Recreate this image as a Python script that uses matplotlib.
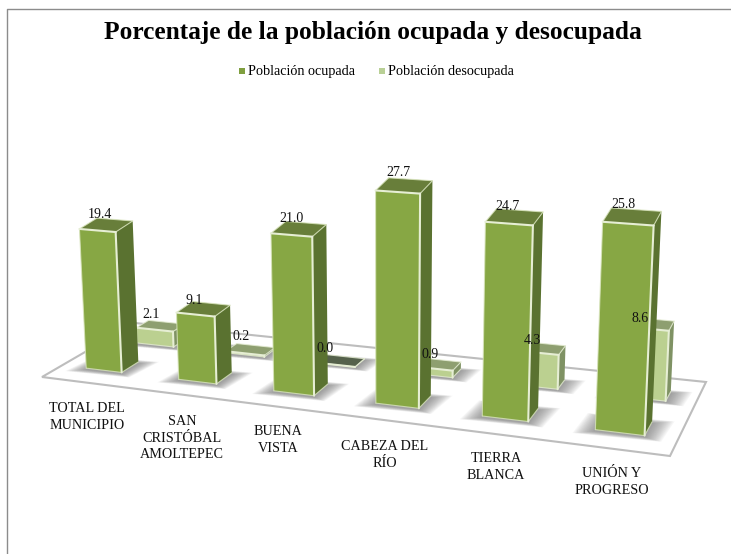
import numpy as np
import matplotlib
matplotlib.use('Agg')
import matplotlib.pyplot as plt
from matplotlib.patches import Polygon, Rectangle

plt.rcParams['font.family'] = ['Liberation Serif', 'DejaVu Serif']

TITLE = 'Porcentaje de la población ocupada y desocupada'
series_names = ['Población ocupada', 'Población desocupada']
categories = ['TOTAL DEL\nMUNICIPIO', 'SAN\nCRISTÓBAL\nAMOLTEPEC', 'BUENA\nVISTA',
              'CABEZA DEL\nRÍO', 'TIERRA\nBLANCA', 'UNIÓN Y\nPROGRESO']
ocupada = [19.4, 9.1, 21.0, 27.7, 24.7, 25.8]
desocupada = [2.1, 0.2, 0.0, 0.9, 4.3, 8.6]

# where things sit on the page, in pixels
category_xy = [(87, 417), (182, 438), (278, 440), (385, 455), (496, 467), (612, 482)]
ocupada_label_xy = [(100, 215), (194, 301), (292, 219), (398, 173), (507, 206), (623, 205)]
desocupada_label_xy = [(151, 314), (241, 337), (325, 349), (430, 354), (532, 340), (640, 318)]
floor_corners = [(42, 377), (670, 456), (706, 382), (135, 323)]
vanish = np.array([384.0, 6500.0])

# bar positions along the floor (0..1)
front_u = [0.081, 0.255, 0.423, 0.592, 0.757, 0.921]
back_u = [0.098, 0.270, 0.432, 0.596, 0.762, 0.922]


def floor_matrix(corners):
    src = [(0, 0), (1, 0), (1, 1), (0, 1)]
    rows, rhs = [], []
    for (u, v), (x, y) in zip(src, corners):
        rows.append([u, v, 1, 0, 0, 0, -u * x, -v * x])
        rows.append([0, 0, 0, u, v, 1, -u * y, -v * y])
        rhs += [x, y]
    h = np.linalg.solve(np.array(rows, float), np.array(rhs, float))
    return np.append(h, 1).reshape(3, 3)


H = floor_matrix(floor_corners)


def project(u, v, z=0.0):
    p = H @ np.array([u, v, 1.0])
    base = p[:2] / p[2]
    # bars get taller towards the right of the picture and lean away from the vanishing point
    px_per_unit = 7.2 + 0.9 * (base[0] - 100) / 520
    h = z * px_per_unit
    direction = base - vanish
    return base + direction / abs(direction[1]) * h


def shade(ax, pts, color, z=3):
    ax.add_patch(Polygon(pts, closed=True, fc=color, ec='none', zorder=z))


def draw_bar(ax, u, v, du, dv, value, colors, edge, order):
    front, side, top = colors
    a, b = u - du / 2, u + du / 2
    c, d = v, v + dv
    base = [project(a, c), project(b, c), project(b, d), project(a, d)]
    centre = np.mean(base, axis=0)
    # soft shadow on the floor: stacked transparent copies of the footprint
    for grow in np.linspace(1.05, 1.8, 16):
        pts = [centre + (p - centre) * np.array([grow, 1 + (grow - 1) * 0.6]) + np.array([0, 1.5]) for p in base]
        ax.add_patch(Polygon(pts, closed=True, fc='#6A6A6A', ec='none', alpha=0.055, zorder=order))
    tops = [project(a, c, value), project(b, c, value), project(b, d, value), project(a, d, value)]
    shade(ax, [base[1], base[2], tops[2], tops[1]], side, order + 0.1)
    shade(ax, [base[0], base[1], tops[1], tops[0]], front, order + 0.1)
    shade(ax, tops, top, order + 0.2)
    # pale bevel lines
    for seg in ([base[0], tops[0]], [base[0], base[1]], [base[1], base[2]],
                [tops[1], tops[2]], [tops[2], tops[3]], [tops[3], tops[0]]):
        xs, ys = zip(*seg)
        ax.plot(xs, ys, color=edge, lw=0.8, alpha=0.8, zorder=order + 0.3, solid_capstyle='round')
    for seg in ([base[1], tops[1]], [tops[0], tops[1]]):
        xs, ys = zip(*seg)
        ax.plot(xs, ys, color='#E6EED4', lw=1.5, zorder=order + 0.35, solid_capstyle='round')


fig = plt.figure(figsize=(7.31, 5.54), dpi=100)
ax = fig.add_axes([0, 0, 1, 1])
ax.set_xlim(0, 731)
ax.set_ylim(554, 0)
ax.axis('off')

# outer frame: only the top and left sides show
ax.plot([6.5, 6.5, 731], [554, 8.5, 8.5], color='#8C8C8C', lw=1.0, zorder=1)

# floor
ax.add_patch(Polygon(floor_corners, closed=True, fc='white', ec='#BDBDBD', lw=1.5, zorder=1.5))

for i in range(len(categories)):
    # back row first so the front bars overlap it
    top_back = '#55614B' if desocupada[i] == 0 else '#8E9F70'
    draw_bar(ax, back_u[i], 0.67, 0.072, 0.14, desocupada[i], ('#BBD090', '#7F9264', top_back), '#E4ECD2', 2 + i)
for i in range(len(categories)):
    draw_bar(ax, front_u[i], 0.20, 0.068, 0.18, ocupada[i], ('#87A744', '#5A7230', '#687E3A'), '#D8E4BC', 10 + i)

# texts
ax.text(373, 33, TITLE, ha='center', va='center', fontsize=18.3, fontweight='bold', color='black', zorder=30)
ax.add_patch(Rectangle((239, 68), 6, 6, fc='#7F9F3F', ec='none', zorder=30))
ax.text(248, 71, series_names[0], ha='left', va='center', fontsize=10.2, zorder=30)
ax.add_patch(Rectangle((379, 68), 6, 6, fc='#B9D096', ec='none', zorder=30))
ax.text(388, 71, series_names[1], ha='left', va='center', fontsize=10.2, zorder=30)

for name, (x, y) in zip(categories, category_xy):
    ax.text(x, y, name, ha='center', va='center', fontsize=10.2, linespacing=1.32, color='#111111', zorder=30)
for val, (x, y) in zip(ocupada, ocupada_label_xy):
    ax.text(x, y, f'{val:.1f}', ha='center', va='center', fontsize=10, color='#111111', zorder=30)
for val, (x, y) in zip(desocupada, desocupada_label_xy):
    ax.text(x, y, f'{val:.1f}', ha='center', va='center', fontsize=10, color='#111111', zorder=30)

fig.savefig('out.png', dpi=100, facecolor='white')
